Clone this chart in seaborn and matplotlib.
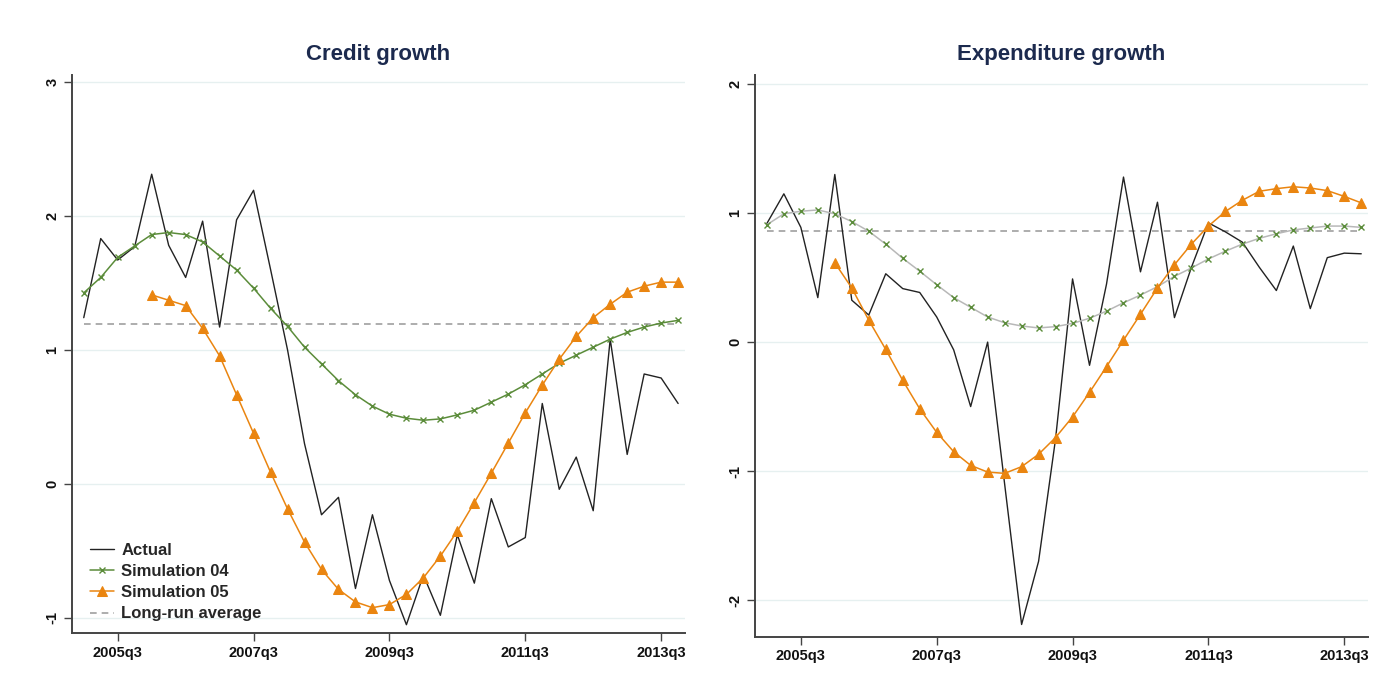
import numpy as np
import matplotlib
matplotlib.use("Agg")
import matplotlib.pyplot as plt
import seaborn as sns

# Quarterly periods 2005q1 .. 2013q4
quarters = [f"{y}q{q}" for y in range(2005, 2014) for q in range(1, 5)]
tick_labels = ["2005q3", "2007q3", "2009q3", "2011q3", "2013q3"]

nan = np.nan

# Credit growth
credit_actual = [1.24, 1.83, 1.67, 1.77, 2.31, 1.78, 1.54, 1.96, 1.17, 1.97,
                 2.19, 1.60, 1.00, 0.30, -0.23, -0.10, -0.78, -0.23, -0.72, -1.05,
                 -0.68, -0.98, -0.38, -0.74, -0.11, -0.47, -0.40, 0.60, -0.04, 0.20,
                 -0.20, 1.08, 0.22, 0.82, 0.79, 0.60]
credit_sim04 = [1.425, 1.54, 1.69, 1.775, 1.86, 1.875, 1.86, 1.805, 1.70, 1.595,
                1.46, 1.31, 1.175, 1.02, 0.895, 0.77, 0.665, 0.58, 0.52, 0.49,
                0.475, 0.485, 0.515, 0.55, 0.61, 0.67, 0.74, 0.82, 0.90, 0.96,
                1.02, 1.08, 1.13, 1.17, 1.20, 1.22]
credit_sim05 = [nan, nan, nan, nan, 1.41, 1.37, 1.33, 1.16, 0.955, 0.665,
                0.377, 0.087, -0.186, -0.434, -0.638, -0.787, -0.88, -0.923, -0.90, -0.824,
                -0.70, -0.538, -0.352, -0.139, 0.08, 0.305, 0.53, 0.737, 0.93, 1.10,
                1.24, 1.34, 1.43, 1.475, 1.505, 1.505]
credit_longrun = 1.19

# Expenditure growth
exp_actual = [0.92, 1.15, 0.89, 0.345, 1.30, 0.325, 0.21, 0.53, 0.415, 0.385,
              0.195, -0.06, -0.50, 0.0, -1.10, -2.19, -1.70, -0.75, 0.49, -0.18,
              0.45, 1.28, 0.545, 1.085, 0.19, 0.58, 0.925, 0.855, 0.775, 0.58,
              0.40, 0.745, 0.26, 0.655, 0.69, 0.685]
exp_sim04 = [0.91, 0.995, 1.015, 1.025, 0.995, 0.935, 0.86, 0.76, 0.65, 0.55,
             0.445, 0.345, 0.27, 0.195, 0.15, 0.125, 0.11, 0.12, 0.145, 0.185,
             0.24, 0.305, 0.365, 0.43, 0.51, 0.575, 0.645, 0.705, 0.76, 0.805,
             0.84, 0.87, 0.885, 0.90, 0.90, 0.89]
exp_sim05 = [nan, nan, nan, nan, 0.615, 0.42, 0.17, -0.057, -0.297, -0.517,
             -0.70, -0.85, -0.956, -1.008, -1.018, -0.966, -0.87, -0.74, -0.58, -0.39,
             -0.19, 0.015, 0.216, 0.42, 0.60, 0.76, 0.90, 1.013, 1.10, 1.17,
             1.19, 1.205, 1.195, 1.175, 1.13, 1.08]
exp_longrun = 0.86

sns.set_theme(style="white")
plt.rcParams["font.family"] = ["Liberation Sans", "DejaVu Sans"]

GREEN = "#5b8c3a"
ORANGE = "#ea8510"
NAVY = "#1c2a4e"
GRID = "#e6f0f0"
SPINE = "#444444"

fig = plt.figure(figsize=(13.82, 6.97), dpi=100)
ax1 = fig.add_axes([0.052, 0.0918, 0.4436, 0.8006])
ax2 = fig.add_axes([0.5463, 0.0861, 0.4436, 0.806])

x = np.arange(len(quarters))


def draw_panel(ax, actual, sim04, sim05, longrun, title, ylim, yticks,
               sim04_line, legend=False):
    sim05 = np.asarray(sim05, dtype=float)
    ok = ~np.isnan(sim05)
    for yt in yticks:
        ax.axhline(yt, color=GRID, lw=1.0, zorder=0)
    sns.lineplot(x=x, y=actual, ax=ax, color="#222222", lw=1.0,
                 label="Actual", zorder=3)
    sns.lineplot(x=x, y=sim04, ax=ax, color=sim04_line, lw=1.1,
                 marker="x", markersize=5, markeredgecolor=GREEN,
                 markeredgewidth=1.0, label="Simulation 04", zorder=4)
    sns.lineplot(x=x[ok], y=sim05[ok], ax=ax, color=ORANGE, lw=1.1,
                 marker="^", markersize=7.5, markeredgecolor=ORANGE,
                 markerfacecolor=ORANGE, label="Simulation 05", zorder=5)
    sns.lineplot(x=x, y=np.full(len(x), longrun), ax=ax, color="#a0a0a0",
                 lw=1.2, label="Long-run average", zorder=2)
    ax.lines[-1].set_linestyle((0, (4, 3)))

    ax.set_xlim(-0.7, 35.4)
    ax.set_ylim(*ylim)
    ax.set_xticks([quarters.index(t) for t in tick_labels])
    ax.set_xticklabels(tick_labels)
    ax.set_yticks(yticks)
    ax.set_yticklabels([f"{v:g}" for v in yticks], rotation=90, va="center")
    ax.tick_params(axis="both", direction="out", length=6, width=1.0,
                   color=SPINE, labelsize=10.5, pad=3, bottom=True, left=True)
    for lab in ax.get_xticklabels() + ax.get_yticklabels():
        lab.set_fontweight("bold")
        lab.set_color("#111111")
    for side in ("top", "right"):
        ax.spines[side].set_visible(False)
    for side in ("left", "bottom"):
        ax.spines[side].set_color(SPINE)
        ax.spines[side].set_linewidth(1.4)
    ax.set_xlabel("")
    ax.set_ylabel("")
    ax.set_title(title, color=NAVY, fontsize=16, fontweight="bold", pad=11)
    if legend:
        leg = ax.legend(loc="lower left", frameon=False, fontsize=12,
                        handlelength=1.45, handletextpad=0.45, labelspacing=0.37,
                        borderaxespad=0.3, bbox_to_anchor=(0.01, 0.0))
        for t in leg.get_texts():
            t.set_fontweight("bold")
    else:
        lg = ax.get_legend()
        if lg is not None:
            lg.remove()


draw_panel(ax1, credit_actual, credit_sim04, credit_sim05, credit_longrun,
           "Credit growth", (-1.112, 3.05), [-1, 0, 1, 2, 3], GREEN, legend=True)
draw_panel(ax2, exp_actual, exp_sim04, exp_sim05, exp_longrun,
           "Expenditure growth", (-2.287, 2.07), [-2, -1, 0, 1, 2], "#b8b8b8")

fig.savefig("out.png", dpi=100, facecolor="white")
